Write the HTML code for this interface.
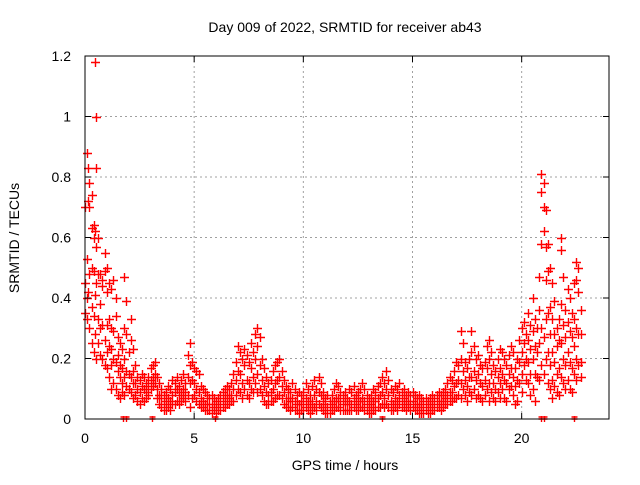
<!DOCTYPE html>
<html><head><meta charset="utf-8"><style>
body{margin:0;background:#fff}
svg{font-family:"Liberation Sans",sans-serif}
</style></head><body>
<svg id="chart" width="640" height="480" viewBox="0 0 640 480">
<rect width="640" height="480" fill="#fff"/>
<g id="grid"></g>
<g id="marks"></g>
<rect x="85" y="56" width="524" height="363" fill="none" stroke="#000" stroke-width="1"/>
<g id="ticks"></g>
<text x="345" y="32" font-size="14" text-anchor="middle">Day 009 of 2022, SRMTID for receiver ab43</text>
<text x="345" y="470" font-size="14" text-anchor="middle">GPS time / hours</text>
<text x="0" y="0" font-size="14" text-anchor="middle" transform="translate(19,238) rotate(-90)">SRMTID / TECUs</text>
</svg>
<script>
const xTicks=[0,5,10,15,20];
const yTicks=[0,0.2,0.4,0.6,0.8,1,1.2];
const yTickLabels=["0","0.2","0.4","0.6","0.8","1","1.2"];
const rows=[
[0.0,.70,.45,.35],[0.1,.88,.53,.40,.33],[0.15,.83,.72,.42],[0.2,.78,.70,.48,.30],[0.3,.74,.63,.50,.37,.25],[0.4,.64,.60,.49,.34,.22],[0.45,1.18,.62,.41,.28],[0.5,1.00,.83,.57,.45,.20],[0.6,.60,.48,.33,.25],[0.7,.48,.38,.30,.21],[0.8,.46,.44,.31,.20],[0.9,.55,.49,.26,.18],[1.0,.50,.42,.31,.22,.17],[1.1,.45,.33,.24,.14],[1.2,.43,.30,.23,.18,.10],[1.3,.46,.29,.20,.12],[1.4,.40,.34,.19,.10],[1.5,.27,.21,.16,.08],[1.6,.25,.18,.14,.07],[1.7,.23,.17,.12,.09],[1.8,.47,.30,.20,.14,.08],[1.9,.39,.28,.16,.11],[2.0,.22,.15,.10],[2.1,.33,.26,.14,.09],[2.2,.23,.16,.12,.07],[2.3,.18,.12,.08],[2.4,.14,.10,.06],[2.5,.13,.09,.05],[2.6,.15,.11,.07],[2.7,.14,.10,.06],[2.8,.12,.09,.07],[2.9,.14,.11,.08],[3.0,.17,.13,.10],[3.1,.18,.14,.11],[3.2,.19,.15,.12],[3.3,.14,.10,.07],[3.4,.12,.08,.05],[3.5,.10,.07,.04],[3.6,.08,.05,.03],[3.7,.09,.06,.03],[3.8,.11,.07,.04],[3.9,.10,.06,.03],[4.0,.13,.08,.05],[4.1,.12,.09,.05],[4.2,.14,.10,.06],[4.3,.11,.08,.05],[4.4,.13,.09,.06],[4.5,.15,.10,.07],[4.6,.12,.09,.06],[4.7,.21,.14,.08],[4.8,.25,.18,.12,.04],[4.9,.19,.13,.07],[5.0,.17,.12,.08],[5.1,.16,.10,.06],[5.2,.15,.09,.05],[5.3,.11,.07,.04],[5.4,.10,.06,.04],[5.5,.09,.05,.03],[5.6,.08,.05,.03],[5.7,.07,.05,.03],[5.8,.08,.05,.02],[5.9,.07,.04,.03],[6.0,.06,.04,.02],[6.1,.07,.05,.03],[6.2,.08,.05,.03],[6.3,.09,.06,.04],[6.4,.10,.07,.04],[6.5,.11,.08,.05],[6.6,.10,.07,.05],[6.7,.12,.08,.06],[6.8,.15,.10,.06],[6.9,.19,.13,.08],[7.0,.24,.16,.10],[7.1,.22,.15,.09],[7.2,.20,.12,.07],[7.3,.23,.18,.10],[7.4,.21,.13,.08],[7.5,.19,.12,.07],[7.6,.25,.17,.10],[7.7,.22,.14,.09],[7.8,.28,.20,.12],[7.9,.30,.24,.15,.09],[8.0,.27,.18,.10],[8.1,.20,.13,.08],[8.2,.17,.11,.06],[8.3,.14,.09,.05],[8.4,.12,.08,.05],[8.5,.13,.09,.06],[8.6,.16,.10,.06],[8.7,.18,.12,.07],[8.8,.19,.13,.08],[8.9,.20,.14,.08],[9.0,.16,.11,.07],[9.1,.13,.09,.05],[9.2,.11,.07,.04],[9.3,.10,.07,.04],[9.4,.09,.06,.03],[9.5,.12,.07,.04],[9.6,.10,.06,.03],[9.7,.08,.05,.03],[9.8,.09,.05,.02],[9.9,.08,.05,.03],[10.0,.09,.06,.03],[10.1,.12,.07,.04],[10.2,.10,.06,.03],[10.3,.08,.05,.02],[10.4,.11,.06,.03],[10.5,.13,.08,.04],[10.6,.10,.06,.03],[10.7,.14,.09,.05],[10.8,.12,.08,.04],[10.9,.09,.06,.03],[11.0,.07,.05,.02],[11.1,.08,.04,.02],[11.2,.06,.04,.02],[11.3,.08,.05,.03],[11.4,.10,.06,.03],[11.5,.12,.07,.04],[11.6,.11,.07,.04],[11.7,.09,.06,.03],[11.8,.08,.05,.03],[11.9,.09,.06,.03],[12.0,.07,.05,.03],[12.1,.10,.06,.03],[12.2,.09,.05,.03],[12.3,.11,.07,.04],[12.4,.08,.05,.03],[12.5,.09,.06,.03],[12.6,.10,.06,.04],[12.7,.12,.07,.04],[12.8,.10,.06,.03],[12.9,.08,.05,.03],[13.0,.07,.04,.02],[13.1,.08,.05,.02],[13.2,.10,.06,.03],[13.3,.09,.06,.03],[13.4,.11,.07,.04],[13.5,.12,.08,.04],[13.6,.14,.09,.05],[13.7,.12,.07,.04],[13.8,.16,.10,.05],[13.9,.13,.08,.04],[14.0,.10,.06,.03],[14.1,.09,.05,.03],[14.2,.11,.07,.04],[14.3,.10,.06,.03],[14.4,.12,.08,.05],[14.5,.09,.06,.04],[14.6,.10,.07,.04],[14.7,.08,.05,.03],[14.8,.09,.06,.04],[14.9,.08,.05,.03],[15.0,.09,.06,.04],[15.1,.08,.05,.03],[15.2,.07,.05,.03],[15.3,.08,.05,.02],[15.4,.07,.04,.02],[15.5,.06,.04,.02],[15.6,.07,.05,.03],[15.7,.06,.04,.02],[15.8,.07,.04,.02],[15.9,.08,.05,.03],[16.0,.07,.05,.03],[16.1,.08,.06,.04],[16.2,.09,.06,.04],[16.3,.08,.05,.03],[16.4,.09,.06,.04],[16.5,.10,.07,.05],[16.6,.12,.08,.05],[16.7,.14,.09,.06],[16.8,.13,.09,.06],[16.9,.16,.11,.07],[17.0,.19,.12,.07],[17.1,.18,.13,.08],[17.2,.29,.20,.12,.07],[17.3,.25,.16,.10],[17.4,.19,.13,.08],[17.5,.17,.11,.06],[17.6,.20,.14,.09],[17.7,.29,.22,.14,.08],[17.8,.24,.16,.10],[17.9,.20,.13,.07],[18.0,.21,.15,.08],[18.1,.18,.12,.07],[18.2,.17,.11,.06],[18.3,.19,.13,.08],[18.4,.24,.17,.10],[18.5,.26,.20,.12,.06],[18.6,.22,.15,.09],[18.7,.18,.12,.07],[18.8,.16,.10,.06],[18.9,.20,.14,.09],[19.0,.23,.17,.12,.07],[19.1,.22,.15,.10],[19.2,.20,.13,.07],[19.3,.18,.12,.06],[19.4,.21,.15,.10],[19.5,.24,.17,.11],[19.6,.22,.14,.08],[19.7,.17,.11,.05],[19.8,.20,.13,.06],[19.9,.26,.19,.12],[20.0,.30,.22,.15,.09],[20.1,.32,.25,.18],[20.2,.28,.20,.13],[20.3,.35,.26,.19,.12],[20.4,.31,.23,.15,.08],[20.5,.40,.29,.20,.10],[20.6,.33,.24,.15,.06],[20.7,.30,.22,.14],[20.8,.47,.36,.25,.13],[20.9,.81,.75,.58,.30,.18],[21.0,.78,.70,.62,.27,.15],[21.1,.69,.57,.46,.33,.20],[21.2,.58,.49,.35,.22,.12],[21.3,.50,.37,.28,.18,.10],[21.4,.45,.33,.22,.13,.07],[21.5,.39,.28,.19,.11],[21.6,.30,.24,.15,.09],[21.7,.33,.26,.17,.08],[21.8,.60,.56,.38,.25,.14],[21.9,.47,.31,.20,.12],[22.0,.36,.27,.18,.10],[22.1,.43,.32,.22,.13],[22.2,.40,.29,.19,.10],[22.3,.35,.27,.17,.09],[22.4,.45,.33,.24,.15],[22.5,.52,.46,.30,.20,.13],[22.6,.50,.42,.28,.18],[22.7,.36,.28,.19,.14]
];
const zeroTimes=[1.75,1.9,3.05,5.95,13.6,20.9,21.0,22.4];

const NS="http://www.w3.org/2000/svg";
const L=85,R=609,T=56,B=419;
function xs(h){return L+h*(R-L)/24;}
function ys(v){return B-v*(B-T)/1.2;}
const grid=document.getElementById('grid'),ticks=document.getElementById('ticks'),marks=document.getElementById('marks');
function mk(tag,attrs,parent){const e=document.createElementNS(NS,tag);for(const k in attrs)e.setAttribute(k,attrs[k]);parent.appendChild(e);return e;}
xTicks.forEach(t=>{
  const x=xs(t);
  if(t>0){const g=mk('line',{x1:x,x2:x,y1:T,y2:B,stroke:'#a0a0a0','stroke-dasharray':'2,3'},grid);
  
  }
  const a=mk('path',{d:`M${x},${B}v-6M${x},${T}v6`,stroke:'#000'},ticks);
  
  
  const tx=mk('text',{x:x,y:443,'font-size':14,'text-anchor':'middle'},ticks);tx.textContent=t;
  
  
});
yTicks.forEach((v,i)=>{
  const y=ys(v);
  if(v>0&&v<1.2){const g=mk('line',{x1:L,x2:R,y1:y,y2:y,stroke:'#a0a0a0','stroke-dasharray':'2,3'},grid);
  
  }
  const a=mk('path',{d:`M${L},${y}h6M${R},${y}h-6`,stroke:'#000'},ticks);
  
  
  const tx=mk('text',{x:71,y:y+5,'font-size':14,'text-anchor':'end'},ticks);tx.textContent=yTickLabels[i];
  
  
});
let d='';
const H=4.5;
rows.forEach(r=>{const x=Math.round(xs(r[0]))+0.5;for(let i=1;i<r.length;i++){const y=Math.round(ys(r[i]))+0.5;d+=`M${x-H},${y}h${2*H}M${x},${y-H}v${2*H}`;}});
zeroTimes.forEach(t=>{const x=Math.round(xs(t))+0.5,y=ys(0);d+=`M${x-3},${y}h6M${x},${y-3}v6M${x-3},${y-2}h6`;});
const p=mk('path',{d:d,stroke:'#ff0000','stroke-width':1.4,fill:'none'},marks);


</script>
</body></html>
